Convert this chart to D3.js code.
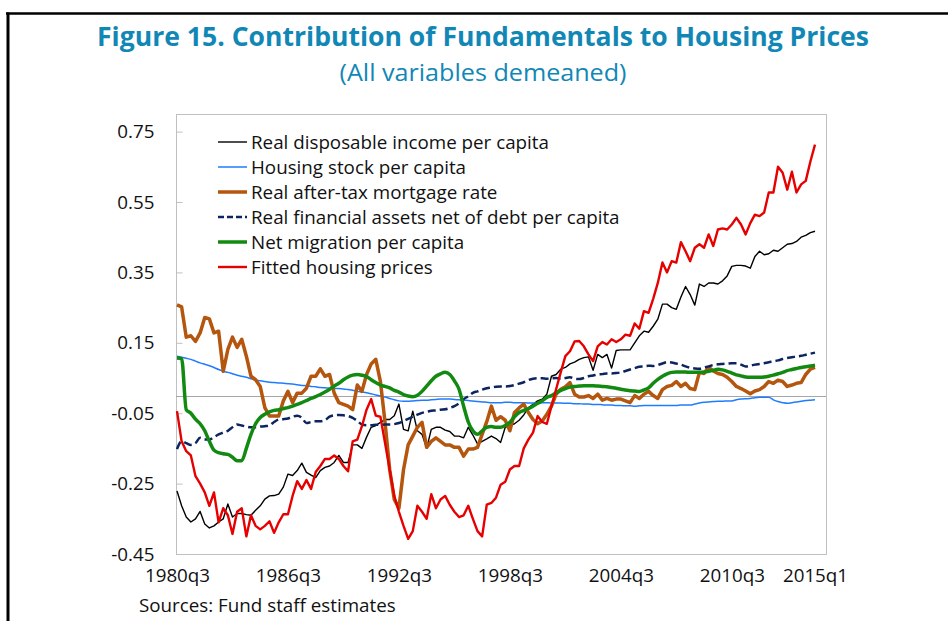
<!DOCTYPE html>
<html><head><meta charset="utf-8">
<script src="https://cdn.jsdelivr.net/npm/d3@7"></script>
<style>
html,body{margin:0;padding:0;background:#fff;}
svg{display:block;}
text{font-family:"Open Sans","Noto Sans",sans-serif;}
</style></head>
<body>
<script>
// ---------- DATA ----------
const startYear = 1980, startQ = 3, nQuarters = 139;
const xTickLabels = ["1980q3","1986q3","1992q3","1998q3","2004q3","2010q3","2015q1"];
const yTicks = [-0.45,-0.25,-0.05,0.15,0.35,0.55,0.75];
const seriesNames = ["Real disposable income per capita","Housing stock per capita","Real after-tax mortgage rate","Real financial assets net of debt per capita","Net migration per capita","Fitted housing prices"];

const income = [-0.271,-0.313,-0.345,-0.359,-0.350,-0.329,-0.365,-0.376,-0.370,-0.359,
-0.350,-0.308,-0.345,-0.335,-0.335,-0.338,-0.340,-0.326,-0.313,-0.294,
-0.285,-0.284,-0.280,-0.260,-0.223,-0.227,-0.213,-0.192,-0.218,-0.226,
-0.233,-0.213,-0.204,-0.200,-0.190,-0.170,-0.190,-0.190,-0.140,-0.140,
-0.150,-0.118,-0.090,-0.085,-0.076,-0.068,-0.068,-0.057,-0.024,-0.096,
-0.100,-0.044,-0.100,-0.110,-0.150,-0.096,-0.090,-0.090,-0.098,-0.102,
-0.115,-0.115,-0.120,-0.090,-0.112,-0.137,-0.130,-0.123,-0.115,-0.122,
-0.133,-0.090,-0.085,-0.080,-0.070,-0.055,-0.035,-0.025,-0.015,-0.010,
0.004,0.055,0.060,0.075,0.080,0.090,0.095,0.103,0.108,0.110,
0.072,0.117,0.108,0.117,0.078,0.128,0.130,0.130,0.130,0.150,
0.170,0.183,0.180,0.197,0.217,0.260,0.260,0.250,0.245,0.280,
0.310,0.287,0.257,0.317,0.310,0.320,0.320,0.317,0.326,0.340,
0.367,0.370,0.370,0.368,0.362,0.395,0.410,0.400,0.403,0.413,
0.410,0.420,0.430,0.432,0.438,0.450,0.455,0.463,0.467];

const housingStock = [0.112,0.109,0.106,0.103,0.098,0.093,0.089,0.085,0.080,0.074,
0.069,0.066,0.062,0.058,0.055,0.052,0.048,0.045,0.042,0.040,
0.038,0.037,0.036,0.035,0.034,0.033,0.031,0.029,0.028,0.026,
0.025,0.023,0.022,0.021,0.020,0.020,0.019,0.017,0.015,0.012,
0.010,0.008,0.005,0.002,-0.001,-0.004,-0.008,-0.012,-0.015,-0.016,
-0.016,-0.015,-0.014,-0.013,-0.013,-0.012,-0.011,-0.010,-0.010,-0.010,
-0.011,-0.012,-0.013,-0.014,-0.015,-0.017,-0.018,-0.019,-0.020,-0.020,
-0.020,-0.019,-0.019,-0.020,-0.020,-0.020,-0.021,-0.021,-0.020,-0.020,
-0.020,-0.021,-0.021,-0.021,-0.022,-0.022,-0.023,-0.023,-0.024,-0.024,
-0.025,-0.025,-0.026,-0.027,-0.027,-0.028,-0.028,-0.029,-0.029,-0.030,
-0.029,-0.028,-0.028,-0.028,-0.028,-0.028,-0.028,-0.028,-0.028,-0.027,
-0.027,-0.027,-0.024,-0.021,-0.019,-0.018,-0.017,-0.016,-0.016,-0.015,
-0.015,-0.012,-0.010,-0.009,-0.008,-0.006,-0.005,-0.005,-0.005,-0.012,
-0.017,-0.020,-0.022,-0.020,-0.018,-0.016,-0.014,-0.013,-0.012];

const mortgage = [0.258,0.252,0.166,0.170,0.154,0.178,0.222,0.218,0.178,0.183,
0.069,0.131,0.166,0.137,0.160,0.112,0.055,0.045,0.026,-0.034,
-0.058,-0.058,-0.058,-0.015,0.012,-0.020,0.007,0.007,0.021,0.055,
0.055,0.076,0.055,0.060,0.007,-0.020,-0.025,-0.030,-0.040,0.030,
0.012,0.060,0.090,0.103,0.040,-0.076,-0.210,-0.295,-0.320,-0.210,
-0.140,-0.115,-0.090,-0.076,-0.147,-0.130,-0.120,-0.130,-0.140,-0.140,
-0.147,-0.147,-0.172,-0.152,-0.152,-0.147,-0.110,-0.074,-0.030,-0.070,
-0.060,-0.070,-0.100,-0.048,-0.035,-0.024,-0.048,-0.068,-0.080,-0.072,
-0.053,-0.030,0.004,0.018,0.025,0.037,0.004,-0.004,-0.004,0.000,
-0.008,0.004,-0.013,-0.008,-0.013,-0.010,-0.010,-0.015,-0.020,0.000,
-0.008,0.004,0.012,0.000,-0.008,0.017,0.026,0.029,0.040,0.026,
0.035,0.020,0.017,0.066,0.063,0.080,0.070,0.063,0.060,0.052,
0.040,0.026,0.020,0.013,0.005,0.013,0.017,0.026,0.040,0.035,
0.044,0.040,0.026,0.030,0.035,0.037,0.060,0.075,0.080];

const financialAssets = [-0.152,-0.130,-0.135,-0.140,-0.135,-0.120,-0.125,-0.125,-0.118,-0.110,
-0.105,-0.100,-0.090,-0.082,-0.085,-0.088,-0.090,-0.090,-0.088,-0.087,
-0.085,-0.075,-0.068,-0.067,-0.065,-0.060,-0.057,-0.063,-0.078,-0.075,
-0.073,-0.073,-0.070,-0.060,-0.056,-0.055,-0.056,-0.058,-0.063,-0.072,
-0.082,-0.084,-0.084,-0.083,-0.083,-0.082,-0.082,-0.081,-0.078,-0.072,
-0.066,-0.060,-0.054,-0.049,-0.046,-0.043,-0.042,-0.040,-0.039,-0.035,
-0.030,-0.022,-0.010,-0.002,0.008,0.012,0.017,0.021,0.023,0.025,
0.026,0.026,0.027,0.030,0.034,0.038,0.044,0.048,0.049,0.049,
0.048,0.049,0.050,0.048,0.050,0.052,0.048,0.047,0.050,0.055,
0.057,0.060,0.061,0.063,0.063,0.064,0.066,0.070,0.074,0.078,
0.082,0.083,0.085,0.084,0.087,0.091,0.095,0.094,0.091,0.088,
0.083,0.079,0.077,0.076,0.080,0.083,0.087,0.089,0.090,0.091,
0.092,0.092,0.088,0.083,0.085,0.088,0.090,0.092,0.095,0.097,
0.100,0.104,0.107,0.109,0.111,0.113,0.116,0.119,0.122];

const migration = [0.107,0.105,-0.040,-0.050,-0.067,-0.080,-0.100,-0.130,-0.155,-0.162,
-0.165,-0.167,-0.175,-0.185,-0.185,-0.150,-0.110,-0.080,-0.062,-0.053,
-0.046,-0.042,-0.040,-0.037,-0.034,-0.030,-0.025,-0.020,-0.014,-0.008,
-0.003,0.003,0.010,0.018,0.027,0.035,0.045,0.053,0.058,0.060,
0.058,0.054,0.045,0.037,0.030,0.026,0.022,0.015,0.010,0.003,
-0.001,-0.003,0.001,0.012,0.027,0.042,0.055,0.062,0.066,0.060,
0.042,0.018,-0.030,-0.075,-0.100,-0.110,-0.100,-0.090,-0.088,-0.090,
-0.090,-0.085,-0.076,-0.060,-0.048,-0.042,-0.037,-0.030,-0.022,-0.015,
-0.005,0.000,0.008,0.015,0.020,0.024,0.026,0.027,0.028,0.028,
0.028,0.027,0.026,0.025,0.023,0.021,0.018,0.016,0.014,0.013,
0.012,0.016,0.022,0.035,0.046,0.055,0.062,0.066,0.067,0.067,
0.067,0.066,0.066,0.066,0.067,0.069,0.072,0.075,0.073,0.069,
0.064,0.059,0.056,0.053,0.052,0.052,0.052,0.053,0.055,0.058,
0.062,0.066,0.071,0.074,0.077,0.080,0.082,0.084,0.086];

const fitted = [-0.044,-0.130,-0.158,-0.170,-0.229,-0.250,-0.275,-0.313,-0.275,-0.360,
-0.320,-0.340,-0.393,-0.330,-0.320,-0.400,-0.340,-0.370,-0.380,-0.370,
-0.357,-0.390,-0.360,-0.337,-0.337,-0.285,-0.243,-0.265,-0.240,-0.265,
-0.217,-0.200,-0.180,-0.180,-0.170,-0.180,-0.200,-0.215,-0.130,-0.125,
-0.087,-0.040,-0.010,-0.057,-0.060,-0.135,-0.210,-0.285,-0.330,-0.370,
-0.407,-0.385,-0.313,-0.330,-0.350,-0.280,-0.320,-0.295,-0.285,-0.310,
-0.330,-0.345,-0.340,-0.313,-0.350,-0.385,-0.400,-0.310,-0.305,-0.290,
-0.253,-0.245,-0.210,-0.200,-0.200,-0.150,-0.125,-0.105,-0.058,-0.075,
-0.080,-0.030,0.018,0.066,0.112,0.126,0.154,0.155,0.140,0.117,
0.098,0.140,0.152,0.145,0.160,0.152,0.160,0.173,0.170,0.205,
0.190,0.240,0.235,0.275,0.320,0.378,0.350,0.382,0.378,0.436,
0.410,0.382,0.420,0.430,0.420,0.458,0.425,0.472,0.475,0.472,
0.486,0.505,0.486,0.458,0.490,0.514,0.510,0.520,0.577,0.577,
0.650,0.633,0.585,0.636,0.577,0.600,0.610,0.665,0.713];

// ---------- CHART ----------
const W = 948, H = 621;
const FS = 18.8;
const quarters = [];
for (let k = 0; k < nQuarters; k++) {
  const q0 = (startQ - 1) + k;
  quarters.push((startYear + Math.floor(q0 / 4)) + "q" + ((q0 % 4) + 1));
}

const svg = d3.select("body").append("svg").attr("width", W).attr("height", H);

// outer frame
svg.append("line").attr("x1", 6).attr("x2", W).attr("y1", 13.5).attr("y2", 13.5)
  .attr("stroke", "#000").attr("stroke-width", 2.5);
svg.append("line").attr("x1", 8).attr("x2", 8).attr("y1", 12.5).attr("y2", H)
  .attr("stroke", "#000").attr("stroke-width", 3);

// titles
const titleColor = "#1187b6";
svg.append("text").attr("x", 483).attr("y", 46).attr("text-anchor", "middle")
  .attr("font-size", 27).attr("font-weight", 700).attr("fill", titleColor)
  .attr("textLength", 772).attr("lengthAdjust", "spacingAndGlyphs")
  .text("Figure 15. Contribution of Fundamentals to Housing Prices");
svg.append("text").attr("x", 483).attr("y", 81).attr("text-anchor", "middle")
  .attr("font-size", 23).attr("fill", titleColor)
  .attr("textLength", 287).attr("lengthAdjust", "spacingAndGlyphs")
  .text("(All variables demeaned)");

const plot = {left: 176, right: 826, top: 114, bottom: 554};
const x = d3.scalePoint().domain(quarters).range([177, 815]);
const y = d3.scaleLinear().domain([-0.45, 0.80]).range([plot.bottom, plot.top]);

// plot frame
svg.append("rect").attr("x", plot.left + 0.5).attr("y", plot.top + 0.5)
  .attr("width", plot.right - plot.left).attr("height", plot.bottom - plot.top)
  .attr("fill", "none").attr("stroke", "#c0c0c0").attr("stroke-width", 1);

// y axis
const yAxis = svg.append("g").attr("transform", `translate(${plot.left + 0.5},0)`)
  .call(d3.axisLeft(y).tickValues(yTicks).tickSizeInner(-6).tickSizeOuter(0).tickPadding(22)
    .tickFormat(d => d.toFixed(2)));
yAxis.select(".domain").remove();
yAxis.selectAll(".tick line").attr("stroke", "#c0c0c0");
yAxis.selectAll(".tick text").attr("font-size", FS).attr("fill", "#111")
  .attr("font-family", "'Open Sans',sans-serif");

// zero line
svg.append("line").attr("x1", plot.left).attr("x2", plot.right)
  .attr("y1", Math.round(y(0)) + 0.5).attr("y2", Math.round(y(0)) + 0.5)
  .attr("stroke", "#a6a6a6").attr("stroke-width", 1);

// x axis
const xAxis = svg.append("g").attr("transform", `translate(0,${plot.bottom})`)
  .call(d3.axisBottom(x).tickValues(xTickLabels).tickSize(0).tickPadding(15));
xAxis.select(".domain").remove();
xAxis.selectAll(".tick text").attr("font-size", FS).attr("fill", "#111")
  .attr("font-family", "'Open Sans',sans-serif");

// series
const styles = [
  {data: income, color: "#000000", w: 1.4, dash: null, curve: d3.curveLinear},
  {data: housingStock, color: "#1f7cff", w: 1.5, dash: null, curve: d3.curveMonotoneX},
  {data: mortgage, color: "#b5560f", w: 3.5, dash: null, curve: d3.curveLinear},
  {data: financialAssets, color: "#0c2460", w: 2.5, dash: "8,4", curve: d3.curveMonotoneX},
  {data: migration, color: "#128a12", w: 3.5, dash: null, curve: d3.curveMonotoneX},
  {data: fitted, color: "#e60000", w: 2.4, dash: null, curve: d3.curveLinear}
];
styles.forEach(s => {
  const line = d3.line().x((d, i) => x(quarters[i])).y(d => y(d)).curve(s.curve);
  svg.append("path").datum(s.data).attr("d", line).attr("fill", "none")
    .attr("stroke", s.color).attr("stroke-width", s.w)
    .attr("stroke-linejoin", "round")
    .attr("stroke-dasharray", s.dash);
});

// legend
const lg = svg.append("g");
seriesNames.forEach((name, i) => {
  const yy = 142 + i * 25;
  const s = styles[i];
  lg.append("line").attr("x1", 218).attr("x2", 247).attr("y1", yy).attr("y2", yy)
    .attr("stroke", s.color).attr("stroke-width", s.w).attr("stroke-dasharray", s.dash ? "6,3" : null);
  lg.append("text").attr("x", 251).attr("y", yy).attr("dy", "0.35em")
    .attr("font-size", FS).attr("fill", "#111").text(name);
});

// source
svg.append("text").attr("x", 139).attr("y", 612).attr("font-size", FS).attr("fill", "#111")
  .text("Sources: Fund staff estimates");
</script>
</body></html>
